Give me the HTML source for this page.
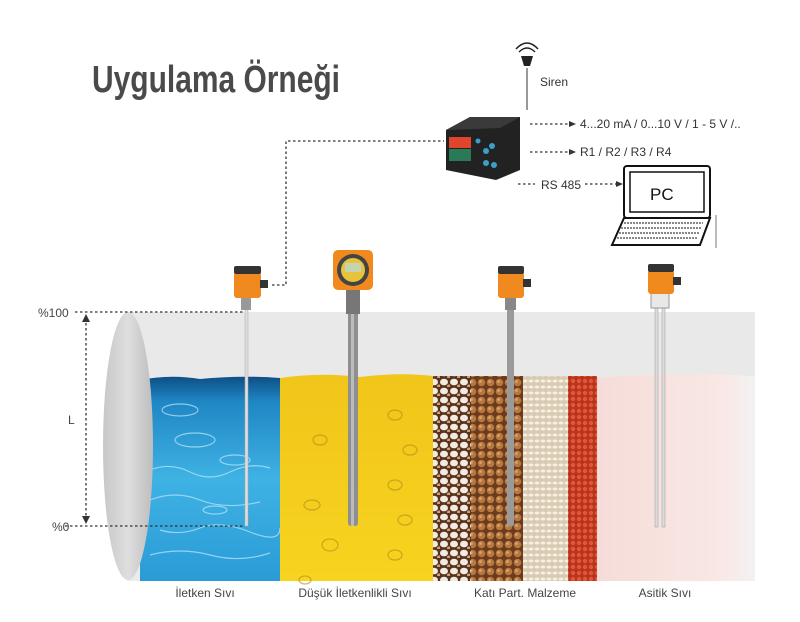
<!DOCTYPE html>
<html><head><meta charset="utf-8"><style>
body{margin:0;background:#fff}
svg{display:block}
text{font-family:"Liberation Sans",sans-serif}
</style></head><body>
<svg width="800" height="622" viewBox="0 0 800 622" xmlns="http://www.w3.org/2000/svg">
<defs>
<linearGradient id="wat" x1="0" y1="0" x2="0" y2="1"><stop offset="0" stop-color="#0e4f86"/><stop offset="0.12" stop-color="#1f86c4"/><stop offset="0.5" stop-color="#3fb2e4"/><stop offset="1" stop-color="#2a9bd6"/></linearGradient>
<linearGradient id="yel" x1="0" y1="0" x2="0" y2="1"><stop offset="0" stop-color="#f1c51a"/><stop offset="1" stop-color="#f7d41f"/></linearGradient>
<linearGradient id="cap" x1="0" y1="0" x2="1" y2="0"><stop offset="0" stop-color="#c8c8c8"/><stop offset="0.5" stop-color="#dedede"/><stop offset="1" stop-color="#bdbdbd"/></linearGradient>
<linearGradient id="rgt" x1="0" y1="0" x2="1" y2="0"><stop offset="0" stop-color="#f6dcd8"/><stop offset="0.8" stop-color="#f9e8e5"/><stop offset="1" stop-color="#f2f2f2"/></linearGradient>
<pattern id="beans" width="10" height="9" patternUnits="userSpaceOnUse"><rect width="10" height="9" fill="#5a3220"/><ellipse cx="4" cy="4" rx="4" ry="3.3" fill="#f1ebe0"/><ellipse cx="9" cy="8" rx="2" ry="1.5" fill="#c9a77a"/></pattern>
<pattern id="chick" width="9" height="9" patternUnits="userSpaceOnUse"><rect width="9" height="9" fill="#6b3a1f"/><circle cx="4.5" cy="4.5" r="3.8" fill="#b7783d"/><circle cx="3.5" cy="3.5" r="1.4" fill="#d7a468"/></pattern>
<pattern id="rice" width="6" height="6" patternUnits="userSpaceOnUse"><rect width="6" height="6" fill="#d9cbb2"/><ellipse cx="3" cy="3" rx="2.5" ry="1.5" fill="#f6f0e4"/></pattern>
<pattern id="lent" width="6" height="6" patternUnits="userSpaceOnUse"><rect width="6" height="6" fill="#b8341c"/><circle cx="3" cy="3" r="2.2" fill="#e2573a"/></pattern>
</defs>

<text x="92" y="92" font-family="Liberation Sans Narrow,Liberation Sans,sans-serif" font-weight="bold" font-size="38" fill="#4a4a4a" textLength="248" lengthAdjust="spacingAndGlyphs">Uygulama Örneği</text>

<rect x="127" y="312" width="628" height="269" fill="#ebebeb"/>
<rect x="127" y="312" width="628" height="65" fill="#e9e9e9"/>
<path d="M140 380 Q170 374 200 379 Q240 375 280 378 L280 581 L140 581Z" fill="url(#wat)"/>
<g stroke="#bfe8fb" stroke-width="1.2" fill="none" opacity="0.7">
<ellipse cx="180" cy="410" rx="18" ry="6"/><ellipse cx="195" cy="440" rx="20" ry="7"/><path d="M150 470 q20 -8 40 2 t40 0 t40 -4"/><path d="M150 500 q25 -10 50 0 t60 2"/><path d="M160 530 q20 6 40 -2 t50 4 t30 -4"/><path d="M150 555 q30 -8 60 0 t60 -2"/><ellipse cx="235" cy="460" rx="15" ry="5"/><ellipse cx="215" cy="510" rx="12" ry="4"/>
</g>
<path d="M280 378 Q320 372 360 377 Q400 372 433 376 L433 581 L280 581Z" fill="url(#yel)"/>
<g stroke="#b28c1a" stroke-width="1.3" fill="none" opacity="0.6">
<ellipse cx="320" cy="440" rx="7" ry="5"/><ellipse cx="395" cy="415" rx="7" ry="5"/><ellipse cx="410" cy="450" rx="7" ry="5"/><ellipse cx="312" cy="505" rx="8" ry="5"/><ellipse cx="395" cy="485" rx="7" ry="5"/><ellipse cx="330" cy="545" rx="8" ry="6"/><ellipse cx="405" cy="520" rx="7" ry="5"/><ellipse cx="305" cy="580" rx="6" ry="4"/><ellipse cx="395" cy="555" rx="7" ry="5"/>
</g>
<rect x="433" y="376" width="38" height="205" fill="url(#beans)"/>
<rect x="471" y="376" width="52" height="205" fill="url(#chick)"/>
<rect x="523" y="376" width="45" height="205" fill="url(#rice)"/>
<rect x="568" y="376" width="29" height="205" fill="url(#lent)"/>
<path d="M597 378 Q660 372 755 376 L755 581 L597 581Z" fill="url(#rgt)"/>
<ellipse cx="128" cy="446" rx="25" ry="134" fill="url(#cap)"/>

<g stroke="#333" stroke-width="1.3" stroke-dasharray="2.5,2.5" fill="none">
<line x1="75" y1="312" x2="248" y2="312"/>
<line x1="65" y1="526" x2="245" y2="526"/>
<line x1="86" y1="318" x2="86" y2="520"/>
<path d="M272 285 L286 285 L286 141 L444 141"/>
<line x1="530" y1="124" x2="570" y2="124"/>
<line x1="530" y1="152" x2="570" y2="152"/>
<line x1="518" y1="184" x2="535" y2="184"/>
<line x1="585" y1="184" x2="618" y2="184"/>
</g>
<path d="M82 322 L86 314 L90 322Z M82 516 L86 524 L90 516Z" fill="#333"/>
<path d="M569 121 L576 124 L569 127Z M569 149 L576 152 L569 155Z M616 181 L623 184 L616 187Z" fill="#333"/>
<text x="38" y="317" font-size="12" fill="#444">%100</text>
<text x="52" y="531" font-size="12" fill="#444">%0</text>
<text x="68" y="424" font-size="12" fill="#444">L</text>

<rect x="245" y="290" width="3" height="236" fill="#ddd" stroke="#aaa" stroke-width="0.5"/>
<rect x="241" y="296" width="10" height="14" fill="#999"/>
<rect x="234" y="272" width="27" height="26" rx="3" fill="#f08a1e"/>
<rect x="234" y="266" width="27" height="8" rx="2" fill="#333"/>
<rect x="260" y="280" width="8" height="8" fill="#333"/>

<rect x="348" y="300" width="10" height="226" rx="3" fill="#8f8f8f"/>
<rect x="351" y="300" width="3" height="226" fill="#bbb"/>
<rect x="346" y="288" width="14" height="26" fill="#777"/>
<rect x="333" y="250" width="40" height="40" rx="5" fill="#f08a1e"/>
<circle cx="353" cy="270" r="16" fill="#444"/><circle cx="353" cy="270" r="12" fill="#e6c23d"/><rect x="345" y="263" width="16" height="9" fill="#c5d4b0"/>

<rect x="507" y="300" width="7" height="226" rx="2" fill="#9a9a9a"/>
<rect x="505" y="294" width="11" height="16" fill="#888"/>
<rect x="498" y="272" width="26" height="26" rx="3" fill="#f08a1e"/>
<rect x="498" y="266" width="26" height="8" rx="2" fill="#333"/>
<rect x="523" y="279" width="8" height="8" fill="#333"/>

<rect x="655" y="305" width="3" height="222" fill="#ddd" stroke="#999" stroke-width="0.5"/>
<rect x="662" y="305" width="3" height="222" fill="#ddd" stroke="#999" stroke-width="0.5"/>
<rect x="651" y="290" width="18" height="18" fill="#e8e8e8" stroke="#999"/>
<rect x="648" y="270" width="26" height="24" rx="3" fill="#f08a1e"/>
<rect x="648" y="264" width="26" height="8" rx="2" fill="#333"/>
<rect x="673" y="277" width="8" height="8" fill="#333"/>

<path d="M446 130 L470 117 L520 117 L520 170 L496 180 L446 170Z" fill="#222"/>
<path d="M470 117 L520 117 L500 128 L446 130Z" fill="#3a3a3a"/>
<rect x="449" y="137" width="22" height="11" fill="#e0452b"/>
<rect x="449" y="149" width="22" height="12" fill="#2a7a5a"/>
<g fill="#3aa0c8"><circle cx="478" cy="141" r="2.5"/><circle cx="486" cy="151" r="3"/><circle cx="492" cy="146" r="3"/><circle cx="486" cy="163" r="3"/><circle cx="494" cy="165" r="3"/></g>
<line x1="527" y1="68" x2="527" y2="110" stroke="#333"/>
<path d="M521 56 L533 56 L530 66 L524 66Z" fill="#222"/>
<path d="M519 52 q8 -8 16 0 M516 49 q11 -12 22 0" stroke="#222" stroke-width="1.5" fill="none"/>
<text x="540" y="86" font-size="12" fill="#333">Siren</text>
<text x="580" y="128" font-size="12" fill="#333">4...20 mA / 0...10 V / 1 - 5 V /..</text>
<text x="580" y="156" font-size="12" fill="#333">R1 / R2 / R3 / R4</text>
<text x="541" y="189" font-size="12" fill="#333">RS 485</text>
<rect x="624" y="166" width="86" height="52" rx="3" fill="#fff" stroke="#111" stroke-width="2"/>
<rect x="630" y="172" width="74" height="40" fill="#fff" stroke="#111" stroke-width="1.5"/>
<text x="650" y="200" font-size="17" fill="#111">PC</text>
<path d="M624 218 L710 218 L700 245 L612 245Z" fill="#fff" stroke="#111" stroke-width="2"/>
<g stroke="#111" stroke-width="1" stroke-dasharray="2,1"><line x1="624" y1="223" x2="703" y2="223"/><line x1="621" y1="228" x2="701" y2="228"/><line x1="619" y1="233" x2="699" y2="233"/><line x1="617" y1="238" x2="697" y2="238"/></g>
<line x1="716" y1="215" x2="716" y2="248" stroke="#777"/>

<g font-size="12" fill="#444" text-anchor="middle">
<text x="205" y="597">İletken Sıvı</text>
<text x="355" y="597">Düşük İletkenlikli Sıvı</text>
<text x="525" y="597">Katı Part. Malzeme</text>
<text x="665" y="597">Asitik Sıvı</text>
</g>
</svg>
</body></html>
